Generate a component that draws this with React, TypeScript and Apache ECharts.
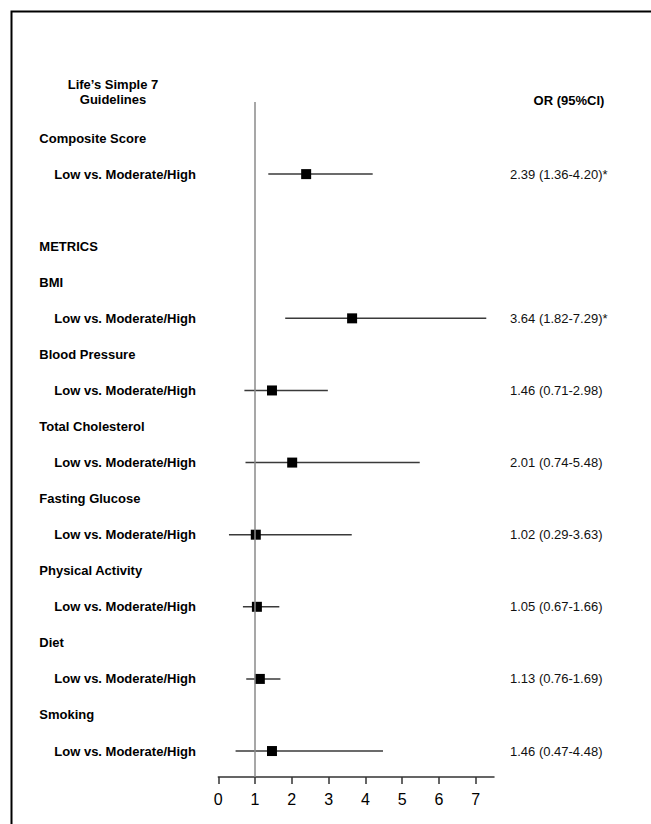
import React, { useEffect, useRef } from "react";
import * as echarts from "echarts";

// ---- data ----
const headerLeft = "Life\u2019s Simple 7\nGuidelines";
const headerRight = "OR (95%CI)";
const sectionLabel = "METRICS";
const comparison = "Low vs. Moderate/High";
const groups = [
  "Composite Score",
  "BMI",
  "Blood Pressure",
  "Total Cholesterol",
  "Fasting Glucose",
  "Physical Activity",
  "Diet",
  "Smoking",
];
const orValues = [2.39, 3.64, 1.46, 2.01, 1.02, 1.05, 1.13, 1.46];
const ciLower = [1.36, 1.82, 0.71, 0.74, 0.29, 0.67, 0.76, 0.47];
const ciUpper = [4.2, 7.29, 2.98, 5.48, 3.63, 1.66, 1.69, 4.48];
const significant = [true, true, false, false, false, false, false, false];
const xTicks = [0, 1, 2, 3, 4, 5, 6, 7];

const FONT = "'Liberation Sans', Arial, Helvetica, sans-serif";

export default function App() {
  const ref = useRef<HTMLDivElement>(null);

  useEffect(() => {
    if (!ref.current) return;
    const chart = echarts.init(ref.current, undefined, { renderer: "svg" });

    // row layout: group heading rows and comparison rows
    const leftLabels: Record<number, string> = {};
    const rightLabels: Record<number, string> = {};
    const headingRow = (i: number) => (i === 0 ? 1 : 2 * i + 3);
    leftLabels[4] = `{h|${sectionLabel}}`;
    const ciData: number[][] = [];
    const pointData: number[][] = [];
    groups.forEach((g, i) => {
      const hr = headingRow(i);
      leftLabels[hr] = `{h|${g}}`;
      leftLabels[hr + 1] = `{s|${comparison}}`;
      rightLabels[hr + 1] =
        `${orValues[i].toFixed(2)} (${ciLower[i].toFixed(2)}-${ciUpper[i].toFixed(2)})` +
        (significant[i] ? "*" : "");
      ciData.push([ciLower[i], ciUpper[i], hr + 1]);
      pointData.push([orValues[i], hr + 1]);
    });

    const yMax = 18.72;
    const yCommon = {
      type: "value" as const,
      min: 0,
      max: yMax,
      interval: 1,
      inverse: true,
      axisLine: { show: false },
      axisTick: { show: false },
      splitLine: { show: false },
    };

    chart.setOption({
      animation: false,
      backgroundColor: "#fff",
      textStyle: { fontFamily: FONT },
      grid: {
        left: 218.3,
        right: 157,
        top: 102,
        bottom: 47,
        containLabel: false,
        outerBoundsMode: "none",
      },
      xAxis: {
        type: "value",
        position: "bottom",
        min: 0,
        max: 7.5,
        interval: 1,
        axisLine: { show: true, onZero: false, lineStyle: { color: "#333", width: 1.5 } },
        axisTick: {
          show: true,
          customValues: xTicks,
          length: 7,
          lineStyle: { color: "#333", width: 1.5 },
        },
        axisLabel: {
          customValues: xTicks,
          fontSize: 16,
          color: "#000",
          margin: 14,
          fontFamily: FONT,
        },
        splitLine: { show: false },
      },
      yAxis: [
        {
          ...yCommon,
          position: "left",
          axisLabel: {
            align: "left",
            margin: 179,
            formatter: (v: number) => leftLabels[v] ?? "",
            rich: {
              h: { fontSize: 13, fontWeight: "bold", color: "#000", fontFamily: FONT },
              s: {
                fontSize: 13,
                fontWeight: "bold",
                color: "#000",
                fontFamily: FONT,
                padding: [0, 0, 0, 15],
              },
            },
          },
        },
        {
          ...yCommon,
          position: "right",
          axisLabel: {
            align: "left",
            margin: 16,
            fontSize: 13,
            color: "#111",
            fontFamily: FONT,
            formatter: (v: number) => rightLabels[v] ?? "",
          },
        },
      ],
      graphic: [
        {
          type: "rect",
          shape: { x: 11.5, y: 11.5, width: 800, height: 1000 },
          style: { fill: "none", stroke: "#000", lineWidth: 2 },
          silent: true,
        },
        {
          type: "text",
          style: {
            text: headerLeft,
            x: 113,
            y: 92,
            textAlign: "center",
            textVerticalAlign: "middle",
            fontSize: 13,
            fontWeight: "bold",
            lineHeight: 15,
            fontFamily: FONT,
            fill: "#000",
          },
        },
        {
          type: "text",
          style: {
            text: headerRight,
            x: 569,
            y: 100,
            textAlign: "center",
            textVerticalAlign: "middle",
            fontSize: 13,
            fontWeight: "bold",
            fontFamily: FONT,
            fill: "#000",
          },
        },
      ],
      series: [
        {
          type: "custom",
          data: ciData,
          encode: { x: [0, 1], y: 2 },
          renderItem: (params: any, api: any) => {
            const y = api.value(2);
            const p1 = api.coord([api.value(0), y]);
            const p2 = api.coord([api.value(1), y]);
            return {
              type: "line",
              shape: { x1: p1[0], y1: p1[1], x2: p2[0], y2: p2[1] },
              style: { stroke: "#3a3a3a", lineWidth: 1.5 },
            };
          },
          silent: true,
          z: 2,
        },
        {
          type: "scatter",
          data: pointData,
          symbol: "rect",
          symbolSize: 10,
          itemStyle: { color: "#000", opacity: 1 },
          silent: true,
          z: 3,
          markLine: {
            silent: true,
            symbol: ["none", "none"],
            label: { show: false },
            lineStyle: { color: "#8a8a8a", width: 1.5, type: "solid" },
            data: [{ xAxis: 1 }],
          },
        },
      ],
    });

    return () => chart.dispose();
  }, []);

  return (
    <div
      ref={ref}
      style={{ position: "absolute", left: 0, top: 0, width: 651, height: 824 }}
    />
  );
}
